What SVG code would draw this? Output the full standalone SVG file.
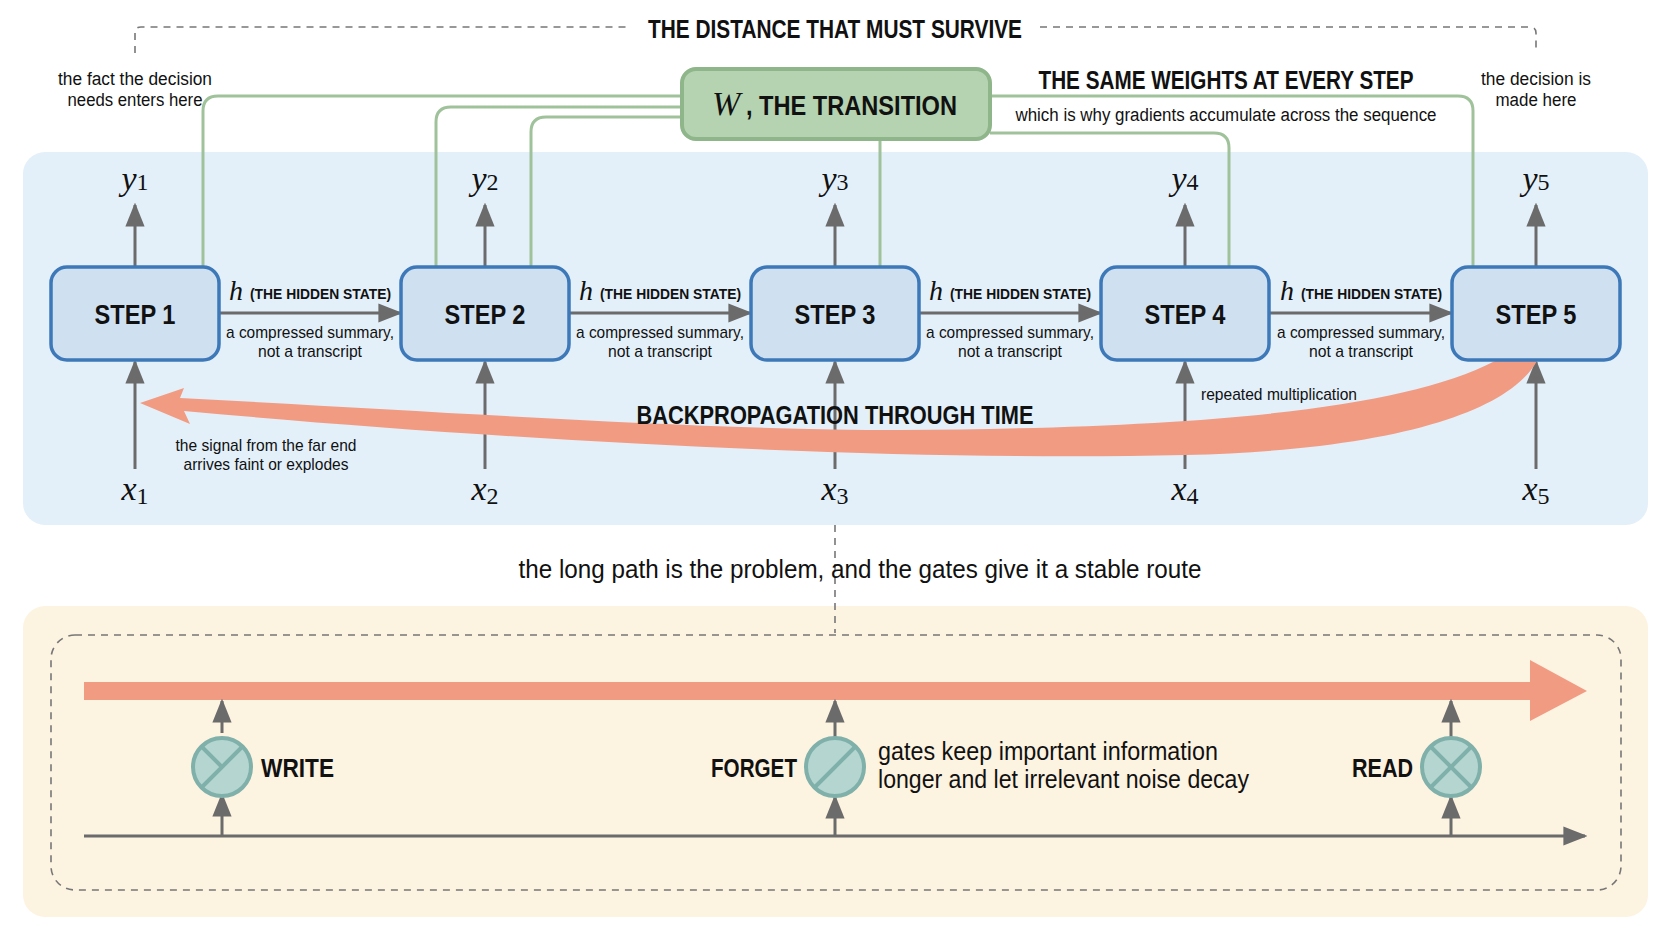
<svg xmlns="http://www.w3.org/2000/svg" width="1672" height="941" viewBox="0 0 1672 941">
<defs>
<style>
text{font-family:"Liberation Sans",Arial,sans-serif;fill:#111}
.b{font-weight:bold}
.math{font-family:"Liberation Serif","DejaVu Serif",serif;font-style:italic}
.step rect{fill:#cfe1f1;stroke:#3d78b8;stroke-width:3.5}
.step text{font-size:28px;font-weight:bold;text-anchor:middle}
.gray{stroke:#6b6b6b;stroke-width:3;fill:none}
.green{stroke:#9fc29b;stroke-width:3;fill:none}
.dash{stroke:#777;stroke-width:1.6;fill:none;stroke-dasharray:7 6}
.gate circle{fill:#b5d5d0;stroke:#7fb0aa;stroke-width:4}
.gate path{stroke:#7fb0aa;stroke-width:4;fill:none}
</style>
<marker id="ar" viewBox="0 0 10 10" refX="9" refY="5" markerWidth="24" markerHeight="24" orient="auto" markerUnits="userSpaceOnUse"><path d="M0,1L10,5L0,9z" fill="#6b6b6b"/></marker>
</defs>
<rect width="1672" height="941" fill="#fff"/>
<rect x="23" y="152" width="1625" height="373" rx="22" fill="#e3f0f9"/>
<rect x="23" y="606" width="1625" height="311" rx="22" fill="#fdf3e1"/>

<g id="connectors">
<path class="dash" d="M135,53V33Q135,27 141,27H630M1040,27H1530Q1536,27 1536,33V53"/>
<path class="dash" d="M835,525V633"/>
<rect class="dash" x="51" y="635" width="1570" height="255" rx="24"/>
<path class="green" d="M682,96H218Q203,96 203,111V267M682,107H451Q436,107 436,122V267M682,117H546Q531,117 531,132V267M880,139V267M990,96H1458Q1473,96 1473,111V267M990,133H1214Q1229,133 1229,148V267"/>
<g class="gray">
<path d="M135,267V205" marker-end="url(#ar)"/><path d="M485,267V205" marker-end="url(#ar)"/><path d="M835,267V205" marker-end="url(#ar)"/><path d="M1185,267V205" marker-end="url(#ar)"/><path d="M1536,267V205" marker-end="url(#ar)"/>
<path d="M135,469V362" marker-end="url(#ar)"/><path d="M485,469V362" marker-end="url(#ar)"/><path d="M835,469V362" marker-end="url(#ar)"/><path d="M1185,469V362" marker-end="url(#ar)"/><path d="M1536,469V362" marker-end="url(#ar)"/>
<path d="M220,313H400" marker-end="url(#ar)"/><path d="M570,313H750" marker-end="url(#ar)"/><path d="M920,313H1100" marker-end="url(#ar)"/><path d="M1270,313H1451" marker-end="url(#ar)"/>
</g>
<path d="M180,398C450,412 700,430 900,430C1200,428 1400,410 1495,361L1537,361C1510,410 1400,450 1185,455C900,462 500,440 184,411L190,424L140,403L184,388Z" fill="#f29b83"/>
<path d="M84,682H1530V660L1587,691L1530,721V700H84Z" fill="#f29b83"/>
<path class="gray" d="M84,836H1585" marker-end="url(#ar)"/>
<g class="gray">
<path d="M222,836V795" marker-end="url(#ar)"/><path d="M222,733V701" marker-end="url(#ar)"/>
<path d="M835,836V797" marker-end="url(#ar)"/><path d="M835,737V701" marker-end="url(#ar)"/>
<path d="M1451,836V797" marker-end="url(#ar)"/><path d="M1451,737V701" marker-end="url(#ar)"/>
</g>
</g>

<text x="835" y="38" class="b" font-size="25" text-anchor="middle" textLength="374" lengthAdjust="spacingAndGlyphs">THE DISTANCE THAT MUST SURVIVE</text>
<text x="135" y="85" font-size="18" text-anchor="middle" textLength="154" lengthAdjust="spacingAndGlyphs">the fact the decision</text>
<text x="135" y="106" font-size="18" text-anchor="middle" textLength="135" lengthAdjust="spacingAndGlyphs">needs enters here</text>
<text x="1536" y="85" font-size="18" text-anchor="middle" textLength="110" lengthAdjust="spacingAndGlyphs">the decision is</text>
<text x="1536" y="106" font-size="18" text-anchor="middle" textLength="81" lengthAdjust="spacingAndGlyphs">made here</text>

<g id="w">
<rect x="682" y="69" width="308" height="70" rx="14" fill="#b5d3b0" stroke="#8fb58a" stroke-width="4"/>
<text x="712" y="115" font-size="34" class="math">W</text>
<text x="746" y="115" font-size="27" class="b" textLength="211" lengthAdjust="spacingAndGlyphs">, THE TRANSITION</text>
</g>
<text x="1226" y="89" class="b" font-size="25" text-anchor="middle" textLength="375" lengthAdjust="spacingAndGlyphs">THE SAME WEIGHTS AT EVERY STEP</text>
<text x="1226" y="121" font-size="18" text-anchor="middle" textLength="421" lengthAdjust="spacingAndGlyphs">which is why gradients accumulate across the sequence</text>

<g id="step1" class="step"><rect x="51" y="267" width="168" height="93" rx="16"/><text x="135" y="324" textLength="81" lengthAdjust="spacingAndGlyphs">STEP 1</text></g>
<g id="step2" class="step"><rect x="401" y="267" width="168" height="93" rx="16"/><text x="485" y="324" textLength="81" lengthAdjust="spacingAndGlyphs">STEP 2</text></g>
<g id="step3" class="step"><rect x="751" y="267" width="168" height="93" rx="16"/><text x="835" y="324" textLength="81" lengthAdjust="spacingAndGlyphs">STEP 3</text></g>
<g id="step4" class="step"><rect x="1101" y="267" width="168" height="93" rx="16"/><text x="1185" y="324" textLength="81" lengthAdjust="spacingAndGlyphs">STEP 4</text></g>
<g id="step5" class="step"><rect x="1452" y="267" width="168" height="93" rx="16"/><text x="1536" y="324" textLength="81" lengthAdjust="spacingAndGlyphs">STEP 5</text></g>

<g font-size="34" text-anchor="middle">
<text x="135" y="190"><tspan class="math">y</tspan><tspan font-family="Liberation Serif" font-size="24">1</tspan></text>
<text x="485" y="190"><tspan class="math">y</tspan><tspan font-family="Liberation Serif" font-size="24">2</tspan></text>
<text x="835" y="190"><tspan class="math">y</tspan><tspan font-family="Liberation Serif" font-size="24">3</tspan></text>
<text x="1185" y="190"><tspan class="math">y</tspan><tspan font-family="Liberation Serif" font-size="24">4</tspan></text>
<text x="1536" y="190"><tspan class="math">y</tspan><tspan font-family="Liberation Serif" font-size="24">5</tspan></text>
<text x="135" y="500"><tspan class="math">x</tspan><tspan font-family="Liberation Serif" font-size="24" dy="4">1</tspan></text>
<text x="485" y="500"><tspan class="math">x</tspan><tspan font-family="Liberation Serif" font-size="24" dy="4">2</tspan></text>
<text x="835" y="500"><tspan class="math">x</tspan><tspan font-family="Liberation Serif" font-size="24" dy="4">3</tspan></text>
<text x="1185" y="500"><tspan class="math">x</tspan><tspan font-family="Liberation Serif" font-size="24" dy="4">4</tspan></text>
<text x="1536" y="500"><tspan class="math">x</tspan><tspan font-family="Liberation Serif" font-size="24" dy="4">5</tspan></text>
</g>

<g>
<text x="229" y="300" font-size="28" class="math">h</text><text x="250" y="299" font-size="15" class="b" textLength="141" lengthAdjust="spacingAndGlyphs">(THE HIDDEN STATE)</text>
<text x="310" y="338" font-size="17" text-anchor="middle" textLength="168" lengthAdjust="spacingAndGlyphs">a compressed summary,</text><text x="310" y="357" font-size="17" text-anchor="middle" textLength="104" lengthAdjust="spacingAndGlyphs">not a transcript</text>
<text x="579" y="300" font-size="28" class="math">h</text><text x="600" y="299" font-size="15" class="b" textLength="141" lengthAdjust="spacingAndGlyphs">(THE HIDDEN STATE)</text>
<text x="660" y="338" font-size="17" text-anchor="middle" textLength="168" lengthAdjust="spacingAndGlyphs">a compressed summary,</text><text x="660" y="357" font-size="17" text-anchor="middle" textLength="104" lengthAdjust="spacingAndGlyphs">not a transcript</text>
<text x="929" y="300" font-size="28" class="math">h</text><text x="950" y="299" font-size="15" class="b" textLength="141" lengthAdjust="spacingAndGlyphs">(THE HIDDEN STATE)</text>
<text x="1010" y="338" font-size="17" text-anchor="middle" textLength="168" lengthAdjust="spacingAndGlyphs">a compressed summary,</text><text x="1010" y="357" font-size="17" text-anchor="middle" textLength="104" lengthAdjust="spacingAndGlyphs">not a transcript</text>
<text x="1280" y="300" font-size="28" class="math">h</text><text x="1301" y="299" font-size="15" class="b" textLength="141" lengthAdjust="spacingAndGlyphs">(THE HIDDEN STATE)</text>
<text x="1361" y="338" font-size="17" text-anchor="middle" textLength="168" lengthAdjust="spacingAndGlyphs">a compressed summary,</text><text x="1361" y="357" font-size="17" text-anchor="middle" textLength="104" lengthAdjust="spacingAndGlyphs">not a transcript</text>
</g>

<text x="835" y="424" class="b" font-size="26" text-anchor="middle" textLength="397" lengthAdjust="spacingAndGlyphs">BACKPROPAGATION THROUGH TIME</text>
<text x="266" y="451" font-size="17" text-anchor="middle" textLength="181" lengthAdjust="spacingAndGlyphs">the signal from the far end</text>
<text x="266" y="470" font-size="17" text-anchor="middle" textLength="165" lengthAdjust="spacingAndGlyphs">arrives faint or explodes</text>
<text x="1201" y="400" font-size="17" textLength="156" lengthAdjust="spacingAndGlyphs">repeated multiplication</text>
<text x="860" y="578" font-size="26" text-anchor="middle" textLength="683" lengthAdjust="spacingAndGlyphs">the long path is the problem, and the gates give it a stable route</text>

<g id="write" class="gate"><circle cx="222" cy="767" r="29"/><path d="M201,788L243,746M201,746L222,767"/></g>
<g id="forget" class="gate"><circle cx="835" cy="767" r="29"/><path d="M814,788L856,746"/></g>
<g id="read" class="gate"><circle cx="1451" cy="767" r="29"/><path d="M1430,788L1472,746M1430,746L1472,788"/></g>
<text x="261" y="777" class="b" font-size="26" textLength="73" lengthAdjust="spacingAndGlyphs">WRITE</text>
<text x="711" y="777" class="b" font-size="26" textLength="86" lengthAdjust="spacingAndGlyphs">FORGET</text>
<text x="1352" y="777" class="b" font-size="26" textLength="61" lengthAdjust="spacingAndGlyphs">READ</text>
<text x="878" y="760" font-size="26" textLength="340" lengthAdjust="spacingAndGlyphs">gates keep important information</text>
<text x="878" y="788" font-size="26" textLength="371" lengthAdjust="spacingAndGlyphs">longer and let irrelevant noise decay</text>
</svg>
